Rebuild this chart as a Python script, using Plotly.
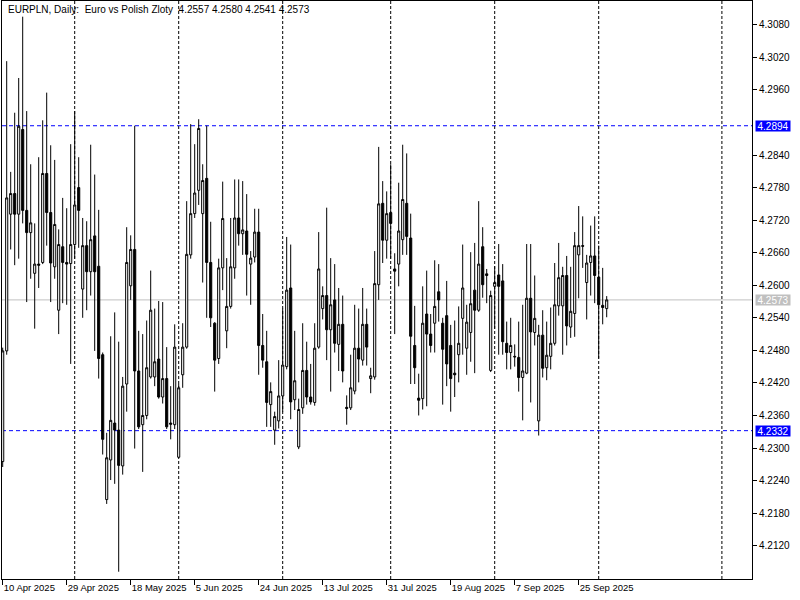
import plotly.graph_objects as go

# ---- data ----
opens = [4.2275,4.2479,4.2731,4.2769,4.2731,4.2887,4.2738,4.2697,4.2622,4.2639,
         4.2642,4.2806,4.2734,4.2634,4.2554,4.2671,4.2642,4.2640,4.2675,4.2780,
         4.2593,4.2673,4.2625,4.2691,4.2635,4.2472,4.2205,4.2278,4.2346,4.2333,
         4.2267,4.2418,4.2599,4.2666,4.2442,4.2343,4.2360,4.2431,4.2431,4.2464,
         4.2394,4.2428,4.2346,4.2343,4.2283,4.2435,4.2486,4.2656,4.2732,4.2775,
         4.2732,4.2797,4.2642,4.2530,4.2465,4.2632,4.2516,4.2561,4.2632,4.2724,
         4.2695,4.2700,4.2639,4.2652,4.2698,4.2489,4.2459,4.2380,4.2333,4.2350,
         4.2396,4.2450,4.2595,4.2389,4.2302,4.2374,4.2443,4.2394,4.2384,4.2486,
         4.2557,4.2581,4.2518,4.2573,4.2491,4.2528,4.2375,4.2374,4.2405,4.2484,
         4.2462,4.2528,4.2428,4.2431,4.2601,4.2751,4.2683,4.2734,4.2630,4.2639,
         4.2684,4.2751,4.2687,4.2489,4.2392,4.2391,4.2547,4.2510,4.2530,4.2588,
         4.2530,4.2544,4.2489,4.2438,4.2472,4.2539,4.2484,4.2513,4.2591,4.2554,
         4.2671,4.2621,4.2443,4.2598,4.2619,4.2608,4.2493,4.2476,4.2469,4.2467,
         4.2430,4.2438,4.2576,4.2513,4.2350,4.2508,4.2448,4.2469,4.2493,4.2562,
         4.2562,4.2618,4.2523,4.2548,4.2656,4.2673,4.2605,4.2642,4.2654,4.2615,
         4.2563,4.2557]
highs = [4.2485,4.3013,4.2809,4.2918,4.2982,4.3095,4.2921,4.2823,4.2714,4.2836,
         4.2904,4.2955,4.2858,4.2831,4.2703,4.2761,4.2742,4.2860,4.2921,4.2836,
         4.2724,4.2718,4.2859,4.2804,4.2739,4.2476,4.2328,4.2506,4.2550,4.2496,
         4.2431,4.2707,4.2692,4.2894,4.2516,4.2510,4.2535,4.2627,4.2557,4.2571,
         4.2569,4.2486,4.2414,4.2528,4.2418,4.2530,4.2755,4.2897,4.2860,4.2906,
         4.2823,4.2894,4.2717,4.2532,4.2649,4.2791,4.2650,4.2724,4.2795,4.2795,
         4.2792,4.2768,4.2663,4.2741,4.2741,4.2547,4.2516,4.2421,4.2367,4.2462,
         4.2557,4.2689,4.2675,4.2516,4.2391,4.2530,4.2496,4.2455,4.2530,4.2698,
         4.2598,4.2743,4.2650,4.2639,4.2595,4.2581,4.2397,4.2472,4.2564,4.2557,
         4.2595,4.2557,4.2448,4.2663,4.2855,4.2792,4.2773,4.2823,4.2659,4.2789,
         4.2859,4.2843,4.2732,4.2562,4.2437,4.2598,4.2627,4.2547,4.2646,4.2639,
         4.2540,4.2608,4.2527,4.2535,4.2561,4.2675,4.2564,4.2661,4.2678,4.2755,
         4.2707,4.2630,4.2590,4.2635,4.2676,4.2639,4.2533,4.2540,4.2491,4.2533,
         4.2564,4.2676,4.2676,4.2618,4.2527,4.2554,4.2533,4.2559,4.2641,4.2678,
         4.2634,4.2654,4.2634,4.2698,4.2746,4.2727,4.2656,4.2710,4.2727,4.2673,
         4.2632,4.2580]
lows = [4.2265,4.2472,4.2666,4.2637,4.2649,4.2714,4.2569,4.2612,4.2520,4.2595,
        4.2639,4.2673,4.2569,4.2612,4.2510,4.2567,4.2564,4.2455,4.2649,4.2669,
        4.2540,4.2554,4.2581,4.2479,4.2428,4.2288,4.2197,4.2241,4.2234,4.2072,
        4.2251,4.2367,4.2573,4.2299,4.2335,4.2256,4.2353,4.2428,4.2414,4.2391,
        4.2382,4.2335,4.2316,4.2335,4.2282,4.2411,4.2483,4.2649,4.2724,4.2748,
        4.2605,4.2540,4.2523,4.2404,4.2455,4.2591,4.2484,4.2557,4.2612,4.2673,
        4.2656,4.2581,4.2564,4.2642,4.2435,4.2448,4.2339,4.2339,4.2306,4.2336,
        4.2367,4.2445,4.2353,4.2370,4.2298,4.2363,4.2380,4.2380,4.2378,4.2483,
        4.2537,4.2462,4.2404,4.2476,4.2442,4.2421,4.2343,4.2370,4.2399,4.2421,
        4.2452,4.2452,4.2401,4.2426,4.2573,4.2641,4.2649,4.2649,4.2510,4.2598,
        4.2656,4.2656,4.2418,4.2418,4.2360,4.2371,4.2377,4.2476,4.2476,4.2533,
        4.2380,4.2414,4.2367,4.2394,4.2421,4.2472,4.2435,4.2459,4.2438,4.2551,
        4.2577,4.2567,4.2440,4.2520,4.2472,4.2472,4.2445,4.2445,4.2450,4.2404,
        4.2351,4.2436,4.2384,4.2489,4.2323,4.2430,4.2425,4.2445,4.2489,4.2544,
        4.2472,4.2489,4.2503,4.2505,4.2576,4.2632,4.2537,4.2581,4.2567,4.2465,
        4.2528,4.2541]
closes = [4.2479,4.2761,4.2769,4.2731,4.2893,4.2738,4.2697,4.2715,4.2639,4.2637,
          4.2806,4.2734,4.2641,4.2712,4.2675,4.2642,4.2639,4.2675,4.2748,4.2738,
          4.2673,4.2625,4.2684,4.2625,4.2465,4.2316,4.2282,4.2351,4.2333,4.2268,
          4.2414,4.2642,4.2666,4.2442,4.2339,4.2360,4.2448,4.2554,4.2459,4.2394,
          4.2428,4.2339,4.2344,4.2486,4.2411,4.2486,4.2657,4.2732,4.2770,4.2889,
          4.2793,4.2642,4.2540,4.2462,4.2632,4.2723,4.2561,4.2634,4.2724,4.2695,
          4.2702,4.2657,4.2650,4.2698,4.2489,4.2462,4.2384,4.2404,4.2358,4.2396,
          4.2453,4.2591,4.2385,4.2424,4.2371,4.2443,4.2394,4.2385,4.2484,4.2630,
          4.2581,4.2518,4.2564,4.2493,4.2528,4.2442,4.2373,4.2411,4.2484,4.2464,
          4.2528,4.2486,4.2433,4.2603,4.2750,4.2683,4.2732,4.2714,4.2626,4.2700,
          4.2758,4.2690,4.2506,4.2448,4.2388,4.2530,4.2510,4.2489,4.2561,4.2573,
          4.2482,4.2455,4.2428,4.2435,4.2493,4.2595,4.2532,4.2566,4.2554,4.2639,
          4.2601,4.2618,4.2581,4.2605,4.2598,4.2496,4.2476,4.2489,4.2468,4.2430,
          4.2442,4.2576,4.2514,4.2539,4.2508,4.2447,4.2471,4.2493,4.2564,4.2614,
          4.2618,4.2525,4.2552,4.2673,4.2673,4.2672,4.2641,4.2654,4.2618,4.2564,
          4.2559,4.2573]

tick_bars = [0, 16, 32, 48, 64, 80, 96, 112, 128, 144]
tick_labels = ["10 Apr 2025", "29 Apr 2025", "18 May 2025", "5 Jun 2025", "24 Jun 2025",
               "13 Jul 2025", "31 Jul 2025", "19 Aug 2025", "7 Sep 2025", "25 Sep 2025"]
separator_bars = [18, 44, 70, 97, 123, 149, 179.8]
price_ticks = [4.3080, 4.3020, 4.2960, 4.2840, 4.2780, 4.2720, 4.2660, 4.2600, 4.2540,
               4.2480, 4.2420, 4.2360, 4.2300, 4.2240, 4.2180, 4.2120]
level_lines = [4.2894, 4.2332]
last_price = 4.2573
title_text = "EURPLN, Daily:\u00a0\u00a0Euro vs Polish Zloty\u00a0\u00a0" + " ".join(
    f"{v:.4f}" for v in (opens[-1], highs[-1], lows[-1], closes[-1]))

bars = list(range(len(opens)))
FONT = "Liberation Sans, Arial, sans-serif"

fig = go.Figure(go.Candlestick(
    x=bars, open=opens, high=highs, low=lows, close=closes,
    increasing=dict(fillcolor="white", line=dict(color="black", width=1)),
    decreasing=dict(fillcolor="black", line=dict(color="black", width=1)),
    whiskerwidth=0, showlegend=False, hoverinfo="skip"))

shapes = []
for b in separator_bars:
    shapes.append(dict(type="line", xref="x", yref="paper", x0=b, x1=b, y0=0, y1=1,
                       line=dict(color="black", width=1, dash="3px,2px"), layer="below"))
for lv in level_lines:
    shapes.append(dict(type="line", xref="paper", yref="y", x0=0, x1=1, y0=lv, y1=lv,
                       line=dict(color="#0000FF", width=1, dash="4px,3px"), layer="below"))
shapes.append(dict(type="line", xref="paper", yref="y", x0=0, x1=1, y0=last_price, y1=last_price,
                   line=dict(color="#C0C0C0", width=1), layer="below"))

annotations = [dict(xref="paper", yref="paper", x=0, y=1, xanchor="left", yanchor="top",
                    xshift=4, yshift=-1, text=title_text, showarrow=False,
                    font=dict(family=FONT, size=10, color="black"))]
for lv, bg in [(level_lines[0], "#0000FF"), (level_lines[1], "#0000FF"), (last_price, "#C0C0C0")]:
    annotations.append(dict(xref="paper", yref="y", x=1, y=lv, xanchor="left", yanchor="middle",
                            xshift=3, text=f"{lv:.4f}", showarrow=False, bgcolor=bg,
                            width=34, height=10, borderpad=0,
                            font=dict(family=FONT, size=10, color="white")))

fig.update_layout(
    width=800, height=600,
    margin=dict(l=2, r=48, t=1, b=21, autoexpand=False),
    paper_bgcolor="white", plot_bgcolor="white",
    boxgap=0.25,
    shapes=shapes, annotations=annotations,
    font=dict(family=FONT, size=10, color="black"),
    xaxis=dict(range=[-0.175, 187.325], showgrid=False, zeroline=False, automargin=False,
               showline=True, linecolor="black", linewidth=1, mirror=True,
               ticks="outside", ticklen=5, tickcolor="black", tickwidth=1,
               tickvals=tick_bars, ticktext=tick_labels, tickangle=0,
               ticklabelposition="outside right",
               tickfont=dict(family=FONT, size=9.5, color="black"),
               rangeslider=dict(visible=False), fixedrange=True),
    yaxis=dict(range=[4.20586, 4.31239], side="right", showgrid=False, zeroline=False,
               automargin=False,
               showline=True, linecolor="black", linewidth=1, mirror=True,
               ticks="outside", ticklen=4, tickcolor="black", tickwidth=1,
               tickvals=price_ticks, ticktext=[f"{v:.4f}" for v in price_ticks],
               tickfont=dict(family=FONT, size=10, color="black"), fixedrange=True),
)

fig.write_html("out.html", config={"displayModeBar": False},
               post_script="document.body.style.margin='0';")
